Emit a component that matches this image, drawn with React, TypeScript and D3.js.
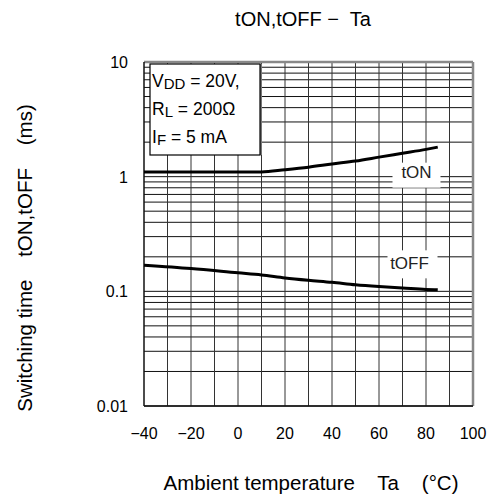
import React from 'react';
import * as d3 from 'd3';

// readings
const temps = [-40, -20, 0, 10, 20, 30, 40, 50, 60, 70, 80, 85];
const tOn = [1.1, 1.1, 1.1, 1.1, 1.15, 1.21, 1.29, 1.37, 1.48, 1.6, 1.73, 1.81];
const tOff = [0.169, 0.158, 0.145, 0.139, 0.131, 0.125, 0.12, 0.114, 0.11, 0.107, 0.104, 0.103];
const xTicks = [-40, -20, 0, 20, 40, 60, 80, 100];
const yTicks = [10, 1, 0.1, 0.01];
const yTickLabels = ['10', '1', '0.1', '0.01'];
const conditions = [
  { main: 'V', sub: 'DD', rest: ' = 20V,' },
  { main: 'R', sub: 'L', rest: ' = 200Ω' },
  { main: 'I', sub: 'F', rest: ' = 5 mA' }
];

const font = '"Liberation Sans", Arial, sans-serif';

const App = () => {
  const margin = { top: 62, right: 16, bottom: 93, left: 144 };
  const width = 489;
  const height = 499;

  const x = d3.scaleLinear().domain([-40, 100]).range([margin.left, width - margin.right]);
  const y = d3.scaleLog().domain([0.01, 10]).range([height - margin.bottom, margin.top]);

  // grid lines
  const vGrid = d3.range(-30, 100, 10);
  const hGrid: number[] = [];
  [0.01, 0.1, 1].forEach(dec => {
    for (let k = 1; k <= 9; k++) hGrid.push(dec * k);
  });

  const line = d3
    .line<[number, number]>()
    .x(d => x(d[0]))
    .y(d => y(d[1]))
    .curve(d3.curveMonotoneX);

  const onData = temps.map((t, i) => [t, tOn[i]] as [number, number]);
  const offData = temps.map((t, i) => [t, tOff[i]] as [number, number]);

  const x0 = x(-40);
  const x1 = x(100);
  const y0 = y(0.01);
  const y1 = y(10);

  return (
    <svg width={width} height={height} style={{ position: 'absolute', left: 0, top: 0 }} fontFamily={font}>
      <rect width={width} height={height} fill="#fff" />
      <text x={303} y={26} fontSize={20} textAnchor="middle" style={{ whiteSpace: 'pre' }}>
        {'tON,tOFF −  Ta'}
      </text>

      {hGrid.map((v, i) => (
        <line key={'h' + i} x1={x0} x2={x1} y1={y(v)} y2={y(v)} stroke="#111" strokeWidth={1} />
      ))}
      {vGrid.map(v => (
        <line key={'v' + v} x1={x(v)} x2={x(v)} y1={y1} y2={y0} stroke="#333" strokeWidth={1} />
      ))}

      {/* frame */}
      <line x1={x1} x2={x1} y1={y1} y2={y0} stroke="#888" strokeWidth={2.5} />
      <line x1={x0} x2={x1} y1={y1} y2={y1} stroke="#888" strokeWidth={2.5} />
      <line x1={x0} x2={x0} y1={y1} y2={y0} stroke="#111" strokeWidth={1.5} />
      <line x1={x0} x2={x1} y1={y0} y2={y0} stroke="#111" strokeWidth={1.5} />

      {/* curve labels */}
      <rect x={x(70) - 10} y={y(1) - 14} width={48} height={25} fill="#fff" />
      <text x={x(70) + 14} y={y(1) + 1} fontSize={17} textAnchor="middle" fill="#222">tON</text>
      <rect x={x(70) - 15} y={y(0.1) - 41} width={50} height={28} fill="#fff" />
      <text x={x(70) + 7} y={y(0.1) - 22} fontSize={17} textAnchor="middle" fill="#222">tOFF</text>

      <path d={line(onData) || ''} fill="none" stroke="#000" strokeWidth={3} />
      <path d={line(offData) || ''} fill="none" stroke="#000" strokeWidth={3} />

      {/* conditions box */}
      <rect x={x0 + 8} y={y1 + 2} width={110} height={91} fill="#777" />
      <rect x={x0 + 6} y={y1 + 2} width={110} height={91} fill="#fff" stroke="#000" strokeWidth={1.2} />
      {conditions.map((c, i) => (
        <text key={c.main} x={x0 + 8} y={y1 + 25 + i * 28} fontSize={17.5} fill="#000" style={{ whiteSpace: 'pre' }}>
          {c.main}
          <tspan fontSize={15} dy={2}>{c.sub}</tspan>
          <tspan dy={-2}>{c.rest}</tspan>
        </text>
      ))}

      {/* y ticks */}
      {yTicks.map((v, i) => (
        <text key={'yt' + v} x={x0 - 16} y={y(v) + 6} fontSize={16} textAnchor="end">
          {yTickLabels[i]}
        </text>
      ))}
      {/* x ticks */}
      {xTicks.map(v => (
        <text key={'xt' + v} x={x(v)} y={y0 + 33} fontSize={16} textAnchor="middle">
          {v < 0 ? '−' + Math.abs(v) : String(v)}
        </text>
      ))}

      <text x={311} y={490} fontSize={20.5} textAnchor="middle" style={{ whiteSpace: 'pre' }}>
        {'Ambient temperature    Ta    (°C)'}
      </text>
      <text
        transform={`translate(32, 258) rotate(-90)`}
        fontSize={20.5}
        textAnchor="middle"
        style={{ whiteSpace: 'pre' }}
      >
        {'Switching time    tON,tOFF    (ms)'}
      </text>
    </svg>
  );
};

export default App;
